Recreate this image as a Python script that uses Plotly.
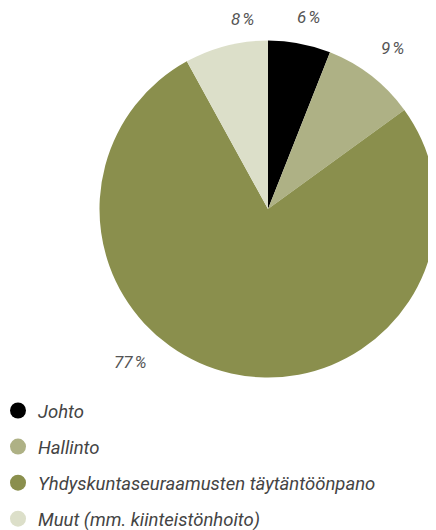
import plotly.graph_objects as go

labels = ["Johto", "Hallinto", "Yhdyskuntaseuraamusten täytäntöönpano", "Muut (mm. kiinteistönhoito)"]
values = [6, 9, 77, 8]
colors = ["#000000", "#aeb185", "#8a8f4d", "#dcdfc9"]
text_labels = ["6\u202f%", "9\u202f%", "77\u202f%", "8\u202f%"]
label_pos = [(300, 9), (384, 40), (122, 354), (234, 11)]

W, H = 436, 530
FONT = "Roboto"

fig = go.Figure()
fig.add_trace(go.Pie(
    labels=labels, values=values, sort=False, direction="clockwise", rotation=0,
    marker=dict(colors=colors, line=dict(width=0)),
    textinfo="none", hoverinfo="label+percent", showlegend=False,
    domain=dict(x=[91.5 / W, 428.5 / W], y=[1 - 369.5 / H, 1 - 32.5 / H]),
))

for i, (lab, col) in enumerate(zip(labels, colors)):
    fig.add_trace(go.Scatter(
        x=[None], y=[None], mode="markers", name=lab, legendgroup=str(i),
        marker=dict(symbol="circle", size=18, color=col),
    ))

for t, (px, py) in zip(text_labels, label_pos):
    fig.add_annotation(
        x=px / W, y=1 - py / H, xref="paper", yref="paper", text=t, showarrow=False,
        font=dict(family=FONT, size=17, color="#555555", style="italic"),
        xanchor="center", yanchor="middle",
    )

fig.update_layout(
    width=W, height=H, margin=dict(l=0, r=0, t=0, b=0, autoexpand=False),
    paper_bgcolor="white", plot_bgcolor="white",
    xaxis=dict(visible=False), yaxis=dict(visible=False),
    legend=dict(
        x=-10 / W, y=1 - 384 / H, xanchor="left", yanchor="top",
        font=dict(family=FONT, size=18.5, color="#444444", style="italic"),
        tracegroupgap=9, itemwidth=30,
    ),
)

fig.write_html("out.html")
